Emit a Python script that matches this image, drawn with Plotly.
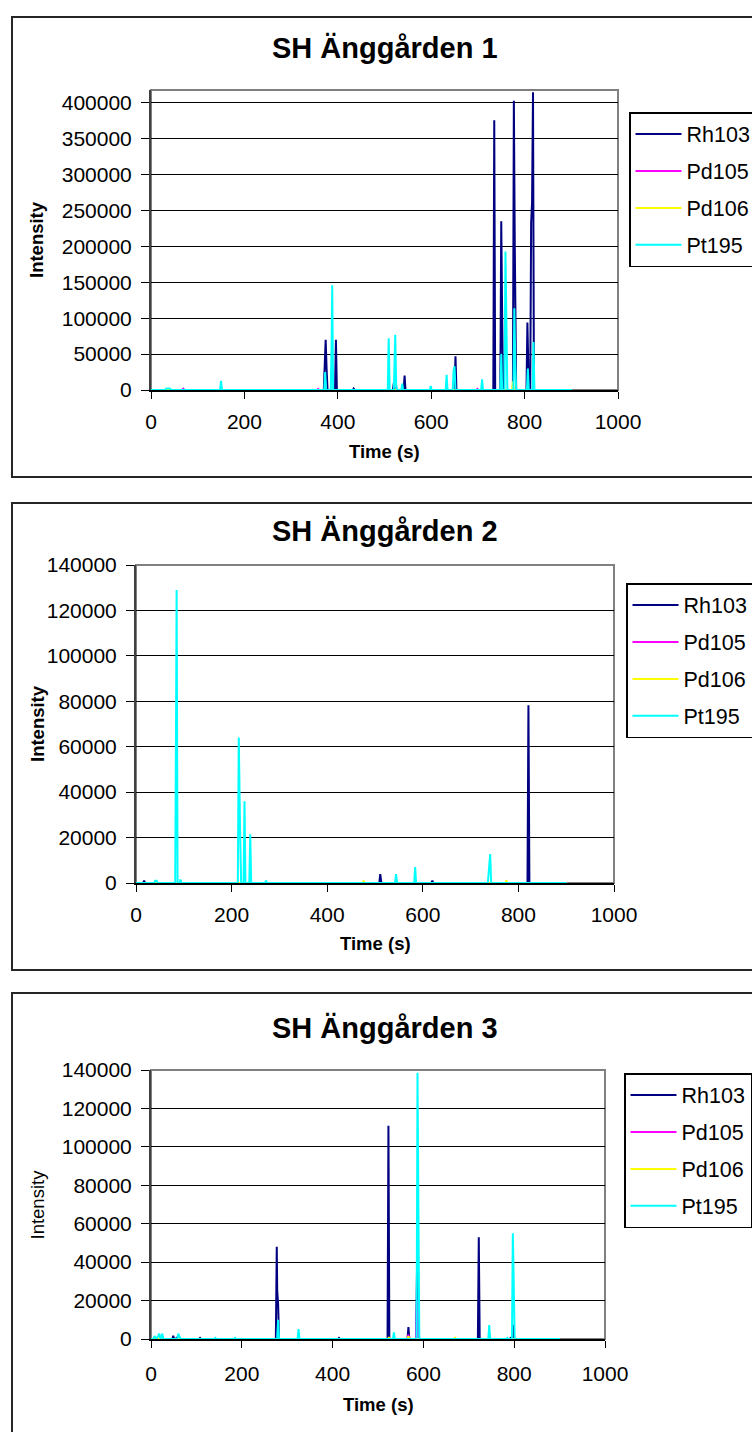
import plotly.graph_objects as go

W, H = 752, 1432
FONT = "Liberation Sans, Arial, sans-serif"

SERIES = ["Rh103", "Pd105", "Pd106", "Pt195"]
COLORS = ["#000080", "#FF00FF", "#FFFF00", "#00FFFF"]
TITLES = ["SH Änggården 1", "SH Änggården 2", "SH Änggården 3"]
X_TICKS = [0, 200, 400, 600, 800, 1000]

# ---------------- SH Änggården 1 ----------------
rh103_t1 = [0, 67, 69, 71, 370, 372, 374, 376, 378, 394, 396, 398, 432, 434, 436,
            518, 520, 522, 541, 543, 545, 650, 652, 654, 733, 735, 737,
            748, 750, 752, 754, 775, 777, 779, 782, 804, 806, 808, 810,
            812, 814, 816, 818, 820, 901]
rh103_y1 = [0, 0, 1500, 0, 0, 40000, 70000, 30000, 0, 0, 70000, 0, 0, 2000, 0,
            0, 10000, 0, 0, 20000, 0, 0, 47000, 0, 0, 376000, 0,
            0, 235000, 100000, 0, 0, 403000, 200000, 0, 0, 94000, 30000, 0,
            0, 233000, 262000, 415000, 0, 0]
pd105_t1 = [0, 67, 69, 71, 356, 358, 360, 697, 699, 701, 901]
pd105_y1 = [0, 0, 1500, 0, 0, 1500, 0, 0, 1500, 0, 0]
pd106_t1 = [0, 773, 775, 777, 901]
pd106_y1 = [0, 0, 12000, 0, 0]
pt195_t1 = [0, 30, 33, 40, 44, 148, 150, 152, 371, 373, 375, 385, 387, 388, 390,
            507, 509, 511, 520, 522, 523, 525, 527, 536, 538, 540,
            597, 599, 601, 631, 633, 635, 646, 648, 650, 652, 707, 709, 711,
            748, 750, 752, 757, 759, 761, 763, 776, 778, 780, 782,
            805, 807, 809, 817, 819, 821, 901]
pt195_y1 = [0, 0, 2000, 2000, 0, 0, 12600, 0, 0, 25000, 0, 0, 74000, 146000, 0,
            0, 72000, 0, 0, 51000, 77000, 7000, 0, 0, 9000, 0,
            0, 5600, 0, 0, 21000, 0, 0, 28000, 33000, 0, 0, 15000, 0,
            0, 50000, 0, 0, 193000, 100000, 0, 0, 114000, 40000, 0,
            0, 30000, 0, 0, 67000, 0, 0]

# ---------------- SH Änggården 2 ----------------
rh103_t2 = [0, 15, 17, 19, 509, 511, 513, 515, 618, 620, 622, 819, 821, 823, 901]
rh103_y2 = [0, 0, 1000, 0, 0, 3900, 500, 0, 0, 1000, 0, 0, 78300, 0, 0]
pd105_t2 = [0, 901]
pd105_y2 = [0, 0]
pd106_t2 = [0, 474, 476, 478, 773, 775, 777, 901]
pd106_y2 = [0, 0, 1000, 0, 0, 1200, 0, 0]
pt195_t2 = [0, 38, 40, 43, 45, 82, 84, 85, 87, 91, 93, 95, 213, 215, 218, 220,
            225, 227, 229, 237, 239, 241, 270, 272, 274, 542, 544, 546, 548,
            582, 584, 586, 736, 738, 741, 743, 901]
pt195_y2 = [0, 0, 1000, 1000, 0, 0, 81500, 129000, 0, 0, 1500, 0, 0, 64000, 20000, 0,
            0, 36000, 0, 0, 21500, 0, 0, 1000, 0, 0, 3900, 500, 0,
            0, 7000, 0, 0, 7300, 12700, 0, 0]

# ---------------- SH Änggården 3 ----------------
rh103_t3 = [0, 20, 22, 24, 47, 49, 51, 55, 57, 59, 106, 108, 110, 275, 277, 278,
            280, 282, 412, 414, 416, 521, 523, 525, 565, 567, 569, 584, 586, 588,
            720, 722, 724, 790, 792, 796, 798, 800, 901]
rh103_y3 = [0, 0, 1400, 0, 0, 1700, 0, 0, 1000, 0, 0, 500, 0, 0, 48000, 25000,
            18000, 0, 0, 500, 0, 0, 111000, 0, 0, 6200, 0, 0, 37700, 0,
            0, 53000, 0, 0, 500, 0, 7400, 0, 0]
pd105_t3 = [0, 565, 567, 569, 584, 586, 588, 901]
pd105_y3 = [0, 0, 2200, 0, 0, 20000, 0, 0]
pd106_t3 = [0, 522, 524, 526, 565, 567, 569, 668, 670, 672, 901]
pd106_y3 = [0, 0, 1000, 0, 0, 1400, 0, 0, 1000, 0, 0]
pt195_t3 = [0, 5, 8, 12, 16, 18, 21, 25, 27, 58, 60, 63, 65, 140, 142, 144,
            183, 185, 187, 278, 280, 282, 323, 325, 327, 533, 535, 537,
            585, 587, 589, 591, 743, 745, 747, 783, 785, 787, 795, 797, 799, 801, 901]
pt195_y3 = [0, 0, 1500, 0, 1500, 2800, 0, 2800, 0, 0, 2800, 1200, 0, 0, 500, 0,
            0, 500, 0, 0, 10000, 0, 0, 5200, 0, 0, 3500, 0,
            0, 138600, 60000, 0, 0, 7300, 0, 0, 500, 0, 0, 55000, 29000, 0, 0]

PANELS = [
    [(rh103_t1, rh103_y1), (pd105_t1, pd105_y1), (pd106_t1, pd106_y1), (pt195_t1, pt195_y1)],
    [(rh103_t2, rh103_y2), (pd105_t2, pd105_y2), (pd106_t2, pd106_y2), (pt195_t2, pt195_y2)],
    [(rh103_t3, rh103_y3), (pd105_t3, pd105_y3), (pd106_t3, pd106_y3), (pt195_t3, pt195_y3)],
]
Y_MAX = [418000, 140000, 140000]
Y_DTICK = [50000, 20000, 20000]

# pixel geometry of each panel (left, right, top, bottom of plot area)
PLOT_BOX = [(151, 618, 90, 390), (136, 614, 565, 883), (151, 605, 1070, 1339)]
FRAME_BOX = [(12, 17, 477), (12, 503, 970), (12, 993, 1445)]
TITLE_Y = [48, 531, 1028]
XTITLE_Y = [452, 943, 1404]
LEGEND_POS = [(629, 112), (626, 583), (624, 1073)]
YTITLE_BOLD = [True, True, False]
XLAB_STANDOFF = [5, 5, 8]


def px_x(v):
    return v / W


def px_y(v):
    return 1 - v / H


fig = go.Figure()
shapes, annotations = [], []

for p in range(3):
    sfx = "" if p == 0 else str(p + 1)
    leg = "legend" if p == 0 else f"legend{p + 1}"
    for s, (t, y) in enumerate(PANELS[p]):
        fig.add_trace(go.Scatter(
            x=t, y=y, mode="lines", name=SERIES[s],
            line=dict(color=COLORS[s], width=2),
            xaxis="x" + sfx, yaxis="y" + sfx,
            legend=leg, legendgroup=f"{p}-{s}", showlegend=True,
            hoverinfo="skip",
        ))

    l, r, t_, b = PLOT_BOX[p]
    fig.update_layout(**{
        "xaxis" + sfx: dict(
            domain=[px_x(l), px_x(r)], range=[0, 1000], anchor="y" + sfx,
            tickvals=X_TICKS, ticks="outside", ticklen=7, tickwidth=1,
            tickcolor="#000", showline=True, linecolor="#000", linewidth=1.5,
            showgrid=False, zeroline=False,
            tickfont=dict(family=FONT, size=21, color="#000"),
            ticklabelstandoff=XLAB_STANDOFF[p],
        ),
        "yaxis" + sfx: dict(
            domain=[px_y(b), px_y(t_)], range=[0, Y_MAX[p]], anchor="x" + sfx,
            dtick=Y_DTICK[p], tick0=0, tickformat="d", ticks="outside",
            ticklen=8, tickwidth=1, tickcolor="#000",
            showline=True, linecolor="#404040", linewidth=2,
            showgrid=True, gridcolor="#000", gridwidth=1, zeroline=False,
            tickfont=dict(family=FONT, size=21, color="#000"),
            ticklabelstandoff=5,
        ),
        leg: dict(
            x=px_x(LEGEND_POS[p][0]), y=px_y(LEGEND_POS[p][1]),
            xanchor="left", yanchor="top", xref="paper", yref="paper",
            bgcolor="#fff", bordercolor="#000", borderwidth=1.5,
            font=dict(family=FONT, size=21.5, color="#000"),
            tracegroupgap=6, traceorder="grouped", itemwidth=46,
        ),
    })

    # grey plot-area frame
    shapes.append(dict(type="rect", xref="x" + sfx + " domain", yref="y" + sfx + " domain",
                       x0=0, x1=1, y0=0, y1=1, line=dict(color="#808080", width=2),
                       layer="below"))
    # outer chart border
    fl, ft, fb = FRAME_BOX[p]
    shapes.append(dict(type="rect", xref="paper", yref="paper",
                       x0=px_x(fl), x1=px_x(W + 10), y0=px_y(fb), y1=px_y(ft),
                       line=dict(color="#262626", width=2)))

    annotations.append(dict(text=f"<b>{TITLES[p]}</b>", x=px_x(385), y=px_y(TITLE_Y[p]),
                            xref="paper", yref="paper", showarrow=False,
                            xanchor="center", yanchor="middle",
                            font=dict(family=FONT, size=29, color="#000")))
    ytxt = "Intensity" if not YTITLE_BOLD[p] else "<b>Intensity</b>"
    annotations.append(dict(text=ytxt, x=px_x(37), y=px_y((t_ + b) / 2),
                            xref="paper", yref="paper", showarrow=False, textangle=-90,
                            xanchor="center", yanchor="middle",
                            font=dict(family=FONT, size=18.5, color="#000")))
    annotations.append(dict(text="<b>Time (s)</b>", x=px_x((l + r) / 2), y=px_y(XTITLE_Y[p]),
                            xref="paper", yref="paper", showarrow=False,
                            xanchor="center", yanchor="middle",
                            font=dict(family=FONT, size=18.5, color="#000")))

fig.update_layout(
    width=W, height=H,
    margin=dict(l=0, r=0, t=0, b=0, autoexpand=False),
    paper_bgcolor="#fff", plot_bgcolor="#fff",
    shapes=shapes, annotations=annotations,
    font=dict(family=FONT, color="#000"),
)

fig.write_html("out.html")
